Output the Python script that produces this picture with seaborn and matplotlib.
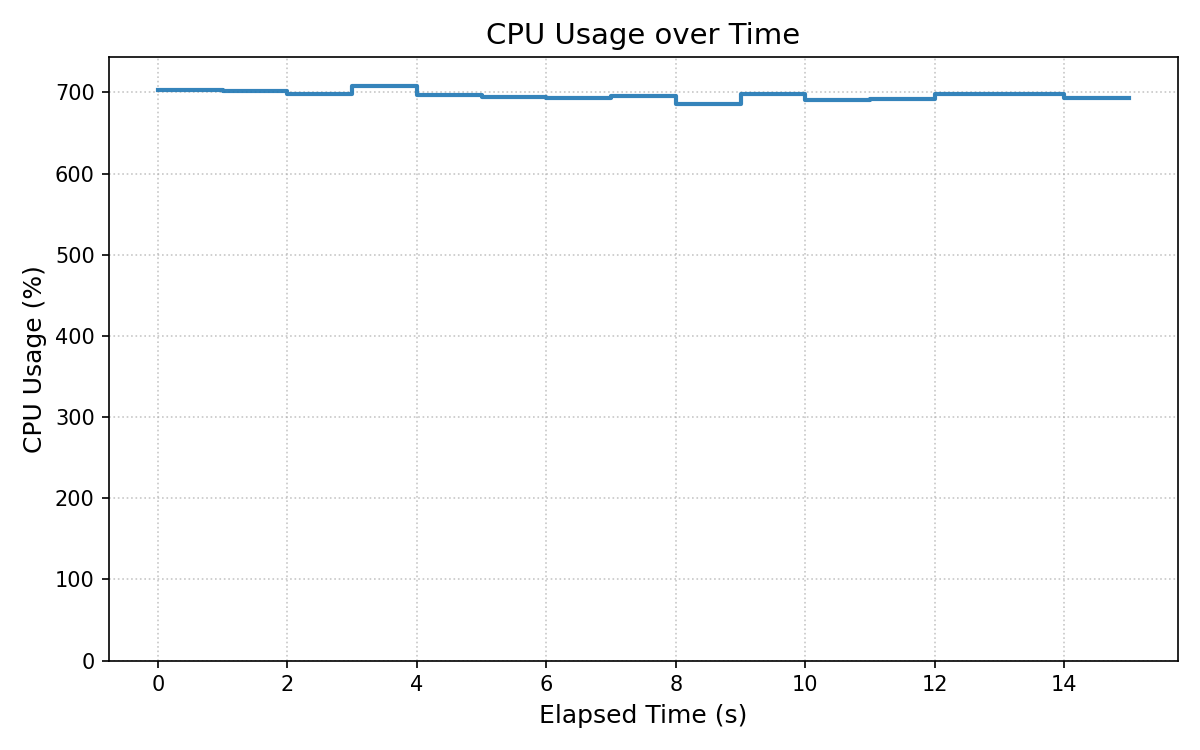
import pandas as pd
import seaborn as sns
import matplotlib.pyplot as plt

elapsed = [0, 1, 2, 3, 4, 5, 6, 7, 8, 9, 10, 11, 12, 13, 14, 15]
cpu = [702.5, 701.3, 698.4, 708.2, 696.7, 694.3, 693.0, 695.9,
       686.0, 698.2, 690.6, 691.8, 698.6, 698.0, 693.0, 693.0]

df = pd.DataFrame({'elapsed': elapsed, 'cpu': cpu})

plt.rcParams['font.family'] = ['DejaVu Sans']
fig, ax = plt.subplots(figsize=(8, 5), dpi=150)
sns.lineplot(data=df, x='elapsed', y='cpu', drawstyle='steps-post',
             color='tab:blue', alpha=0.9, linewidth=2, ax=ax)
ax.set_ylim(0, max(cpu) * 1.05)
ax.set_title('CPU Usage over Time', fontsize=14)
ax.set_xlabel('Elapsed Time (s)', fontsize=12)
ax.set_ylabel('CPU Usage (%)', fontsize=12)
ax.grid(True, linestyle=':', color='#b0b0b0', alpha=0.7)

plt.tight_layout()
plt.savefig('out.png', dpi=150)
